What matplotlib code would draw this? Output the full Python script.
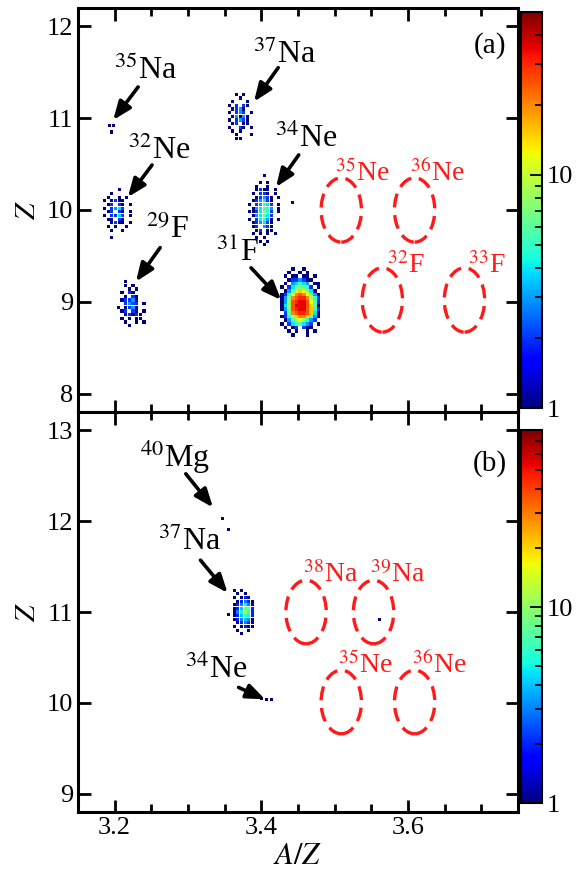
import numpy as np
import matplotlib
matplotlib.use('Agg')
import matplotlib.pyplot as plt
from matplotlib.colors import LogNorm
from matplotlib.patches import Ellipse
from matplotlib.ticker import MultipleLocator, FixedLocator, LogLocator, NullFormatter
import matplotlib.cm as cm

plt.rcParams['font.family'] = ['Liberation Serif', 'DejaVu Serif']
plt.rcParams['mathtext.fontset'] = 'stix'

# ---------------- data ----------------
# count codes used in the grids below
CODE = {'.': 0, '1': 1, '2': 2, '3': 3, '4': 4, '5': 5, '6': 6, '7': 7, '8': 8, '9': 9,
        'a': 12, 'b': 15, 'c': 20, 'd': 25, 'e': 30, 'f': 35, 'g': 40}
DX = 0.005   # A/Z bin width
DZ = 0.04    # Z bin width

# panel (a) clusters: rows from top (z0) downward, columns from left (x0)
F31_A_X0, F31_A_Z0 = 3.428, 9.36
F31_A = ["...1..1....",
         "..1..1.1...",
         ".1.11.11.1.",
         "..1223211..",
         ".1.34543.11",
         "1.2467752.1",
         ".136aba841.",
         "125acdca731",
         "137cdeec952",
         "138deffda62",
         "148dfffdb61",
         "137deffdb52",
         ".26cdeedb41",
         "1258bccb631",
         ".1369a8532.",
         "1.2456432.1",
         ".1.12.211..",
         "..1.1..1.1.",
         "...1...1..."]

NA37_A_X0, NA37_A_Z0 = 3.356, 11.26
NA37_A = ["..1.1..",
          "...1...",
          ".1...1.",
          "1.2.21.",
          ".1231..",
          "1.232.1",
          ".13131.",
          "1.2321.",
          ".12.11.",
          "1..21.1",
          ".1.1...",
          "..1...1",
          "..11..."]

NE32_A_X0, NE32_A_Z0 = 3.186, 10.22
NE32_A = ["....1...",
          "..1.....",
          ".1..1.1.",
          "1.1211..",
          ".12.21.1",
          "1.2342..",
          ".12.21.1",
          "1.2242.1",
          ".11.21..",
          "..1211.1",
          ".1.1..1.",
          "..1..1..",
          "........",
          "..1....."]

F29_A_X0, F29_A_Z0 = 3.205, 9.22
F29_A = ["..1.....",
         "..1.1...",
         "...1.1..",
         ".1.21...",
         "..1.21..",
         ".12231..",
         "..2322.1",
         "1.1231..",
         ".12.21.1",
         "..12121.",
         ".1.1.11.",
         "..1..1.1",
         "...1...."]

NE34_A_X0, NE34_A_Z0 = 3.384, 10.38
NE34_A = ["....1....",
          ".........",
          "...1.1...",
          "..1..1...",
          "..1211.1.",
          ".1.221.1.",
          "..12321.1",
          ".123421..",
          "1.23542.1",
          ".134653.1",
          "1124752.1",
          ".134642..",
          "1.24531.1",
          ".123421..",
          ".12.321..",
          "..12.11..",
          ".1.1.1.1.",
          "..1.1....",
          "...1.1...",
          "....1...."]

# isolated single events, panel (a)
SINGLE_A_X = [3.193, 3.199, 3.196, 3.443]
SINGLE_A_Z = [10.92, 10.92, 10.85, 10.08]

# panel (b) cluster
NA37_B_X0, NA37_B_Z0 = 3.363, 11.24
NA37_B = ["1.1...",
          ".1.1..",
          "1.121.",
          ".12321",
          "123531",
          "124782",
          "135a62",
          "124652",
          "123431",
          ".12321",
          "1.1211",
          ".1..1.",
          "..1..."]

# isolated single events, panel (b)
SINGLE_B_X = [3.347, 3.355, 3.355, 3.400, 3.407, 3.414, 3.561]
SINGLE_B_Z = [12.03, 11.91, 10.97, 10.05, 10.04, 10.04, 10.92]

# expected (unobserved) nuclei: ellipse centres
ELL_A_NAMES = ['35Ne', '36Ne', '32F', '33F']
ELL_A_X = [3.509, 3.609, 3.565, 3.677]
ELL_A_Z = [10.0, 10.0, 9.02, 9.02]
ELL_B_NAMES = ['38Na', '39Na', '35Ne', '36Ne']
ELL_B_X = [3.461, 3.553, 3.509, 3.609]
ELL_B_Z = [11.0, 11.0, 10.01, 10.01]

VMAX_A = 50
VMAX_B = 80

# ---------------- drawing ----------------
W, H = 588, 880
fig = plt.figure(figsize=(W / 100, H / 100), dpi=100)

def fx(px):
    return px / W

def fy(py):
    return 1 - py / H

ax_a = fig.add_axes([fx(78), fy(412), fx(518) - fx(78), fy(8) - fy(412)])
ax_b = fig.add_axes([fx(78), fy(812), fx(518) - fx(78), fy(412) - fy(812)])
cax_a = fig.add_axes([fx(521), fy(408), fx(542) - fx(521), fy(12) - fy(408)])
cax_b = fig.add_axes([fx(521), fy(803), fx(542) - fx(521), fy(430) - fy(803)])

cmap = plt.get_cmap('jet')
norm_a = LogNorm(1, VMAX_A)
norm_b = LogNorm(1, VMAX_B)

def grid_points(rows, x0, z0):
    xs, zs, cs = [], [], []
    for i, r in enumerate(rows):
        for j, ch in enumerate(r):
            v = CODE[ch]
            if v > 0:
                xs.append(x0 + j * DX)
                zs.append(z0 - i * DZ)
                cs.append(v)
    return np.array(xs), np.array(zs), np.array(cs, float)

MS = 5.0

def draw_grid(ax, rows, x0, z0, norm, ms=MS):
    xs, zs, cs = grid_points(rows, x0, z0)
    order = np.argsort(cs)
    ax.scatter(xs[order], zs[order], c=cs[order], cmap=cmap, norm=norm,
               marker='s', s=ms, linewidths=0, zorder=3)

draw_grid(ax_a, F31_A, F31_A_X0, F31_A_Z0, norm_a, ms=7.0)
for rows, x0, z0 in [(NA37_A, NA37_A_X0, NA37_A_Z0),
                     (NE32_A, NE32_A_X0, NE32_A_Z0), (F29_A, F29_A_X0, F29_A_Z0),
                     (NE34_A, NE34_A_X0, NE34_A_Z0)]:
    draw_grid(ax_a, rows, x0, z0, norm_a)
ax_a.scatter(SINGLE_A_X, SINGLE_A_Z, c=np.ones(len(SINGLE_A_X)), cmap=cmap, norm=norm_a,
             marker='s', s=MS, linewidths=0, zorder=3)

draw_grid(ax_b, NA37_B, NA37_B_X0, NA37_B_Z0, norm_b)
ax_b.scatter(SINGLE_B_X, SINGLE_B_Z, c=np.ones(len(SINGLE_B_X)), cmap=cmap, norm=norm_b,
             marker='s', s=MS, linewidths=0, zorder=3)

ELL_W, ELL_H = 0.055, 0.70
for ax, xs, zs in [(ax_a, ELL_A_X, ELL_A_Z), (ax_b, ELL_B_X, ELL_B_Z)]:
    for x, z in zip(xs, zs):
        ax.add_patch(Ellipse((x, z), ELL_W, ELL_H, fill=False, ec='#ff1a1a', lw=2.4,
                             ls=(0, (4.2, 2.3)), zorder=2))

def iso(name):
    num = ''.join(c for c in name if c.isdigit())
    el = ''.join(c for c in name if not c.isdigit())
    return r'$^{%s}$%s' % (num, el)

ARROW = dict(arrowstyle='-|>,head_length=0.55,head_width=0.22', lw=2.6, color='k',
             shrinkA=0, shrinkB=0, mutation_scale=20)

# black labels + arrows
lab_a = [('35Na', (3.242, 11.52), (3.232, 11.34), (3.198, 10.98)),
         ('37Na', (3.432, 11.69), (3.423, 11.55), (3.390, 11.18)),
         ('32Ne', (3.261, 10.65), (3.251, 10.49), (3.218, 10.14)),
         ('34Ne', (3.461, 10.78), (3.451, 10.60), (3.420, 10.25)),
         ('29F', (3.272, 9.78), (3.262, 9.59), (3.229, 9.22)),
         ('31F', (3.368, 9.54), (3.386, 9.37), (3.427, 9.02))]
lab_b = [('40Mg', (3.283, 12.70), (3.297, 12.52), (3.334, 12.15)),
         ('37Na', (3.302, 11.77), (3.317, 11.57), (3.354, 11.21)),
         ('34Ne', (3.338, 10.37), (3.369, 10.17), (3.405, 10.04))]
for ax, labs in [(ax_a, lab_a), (ax_b, lab_b)]:
    for name, tpos, tail, tip in labs:
        ax.text(tpos[0], tpos[1], iso(name), fontsize=23, ha='center', va='center', zorder=4)
        ax.annotate('', xy=tip, xytext=tail, arrowprops=ARROW, zorder=4)

# red labels
red_a = [(3.538, 10.40), (3.640, 10.40), (3.597, 9.40), (3.708, 9.40)]
red_b = [(3.495, 11.41), (3.586, 11.41), (3.542, 10.42), (3.642, 10.42)]
for ax, names, poss in [(ax_a, ELL_A_NAMES, red_a), (ax_b, ELL_B_NAMES, red_b)]:
    for name, (x, z) in zip(names, poss):
        ax.text(x, z, iso(name), fontsize=20, color='#ff1a1a', ha='center', va='center', zorder=4)

ax_a.text(0.936, 0.908, '(a)', transform=ax_a.transAxes, fontsize=21, ha='center', va='center')
ax_b.text(0.936, 0.87, '(b)', transform=ax_b.transAxes, fontsize=21, ha='center', va='center')

for ax, ylim, yt in [(ax_a, (7.8, 12.2), [8, 9, 10, 11, 12]), (ax_b, (8.8, 13.2), [9, 10, 11, 12, 13])]:
    ax.set_xlim(3.15, 3.75)
    ax.set_ylim(*ylim)
    ax.yaxis.set_major_locator(FixedLocator(yt))
    ax.xaxis.set_major_locator(MultipleLocator(0.2))
    ax.xaxis.set_minor_locator(MultipleLocator(0.05))
    ax.tick_params(which='both', direction='in', top=True, right=True, width=2, labelsize=19)
    ax.tick_params(which='major', length=9)
    ax.tick_params(which='minor', length=6)
    for s in ax.spines.values():
        s.set_linewidth(2.2)
    ax.set_ylabel(r'$Z$', fontsize=21, labelpad=4)

ax_a.tick_params(labelbottom=False)
ax_b.set_xlabel(r'$A/Z$', fontsize=22, labelpad=2)
ax_b.xaxis.set_major_formatter(matplotlib.ticker.FuncFormatter(lambda v, p: '%.1f' % v))

for cax, norm in [(cax_a, norm_a), (cax_b, norm_b)]:
    sm = cm.ScalarMappable(norm=norm, cmap=cmap)
    cb = fig.colorbar(sm, cax=cax)
    cb.outline.set_linewidth(1.5)
    cax.yaxis.set_major_locator(FixedLocator([1, 10]))
    cax.yaxis.set_major_formatter(matplotlib.ticker.FixedFormatter(['1', '10']))
    cax.yaxis.set_minor_locator(LogLocator(subs=np.arange(2, 10)))
    cax.yaxis.set_minor_formatter(NullFormatter())
    cax.tick_params(which='both', direction='in', right=True, left=False, labelsize=19, width=1.3)
    cax.tick_params(which='major', length=9)
    cax.tick_params(which='minor', length=5)

fig.savefig('out.png', dpi=100)
